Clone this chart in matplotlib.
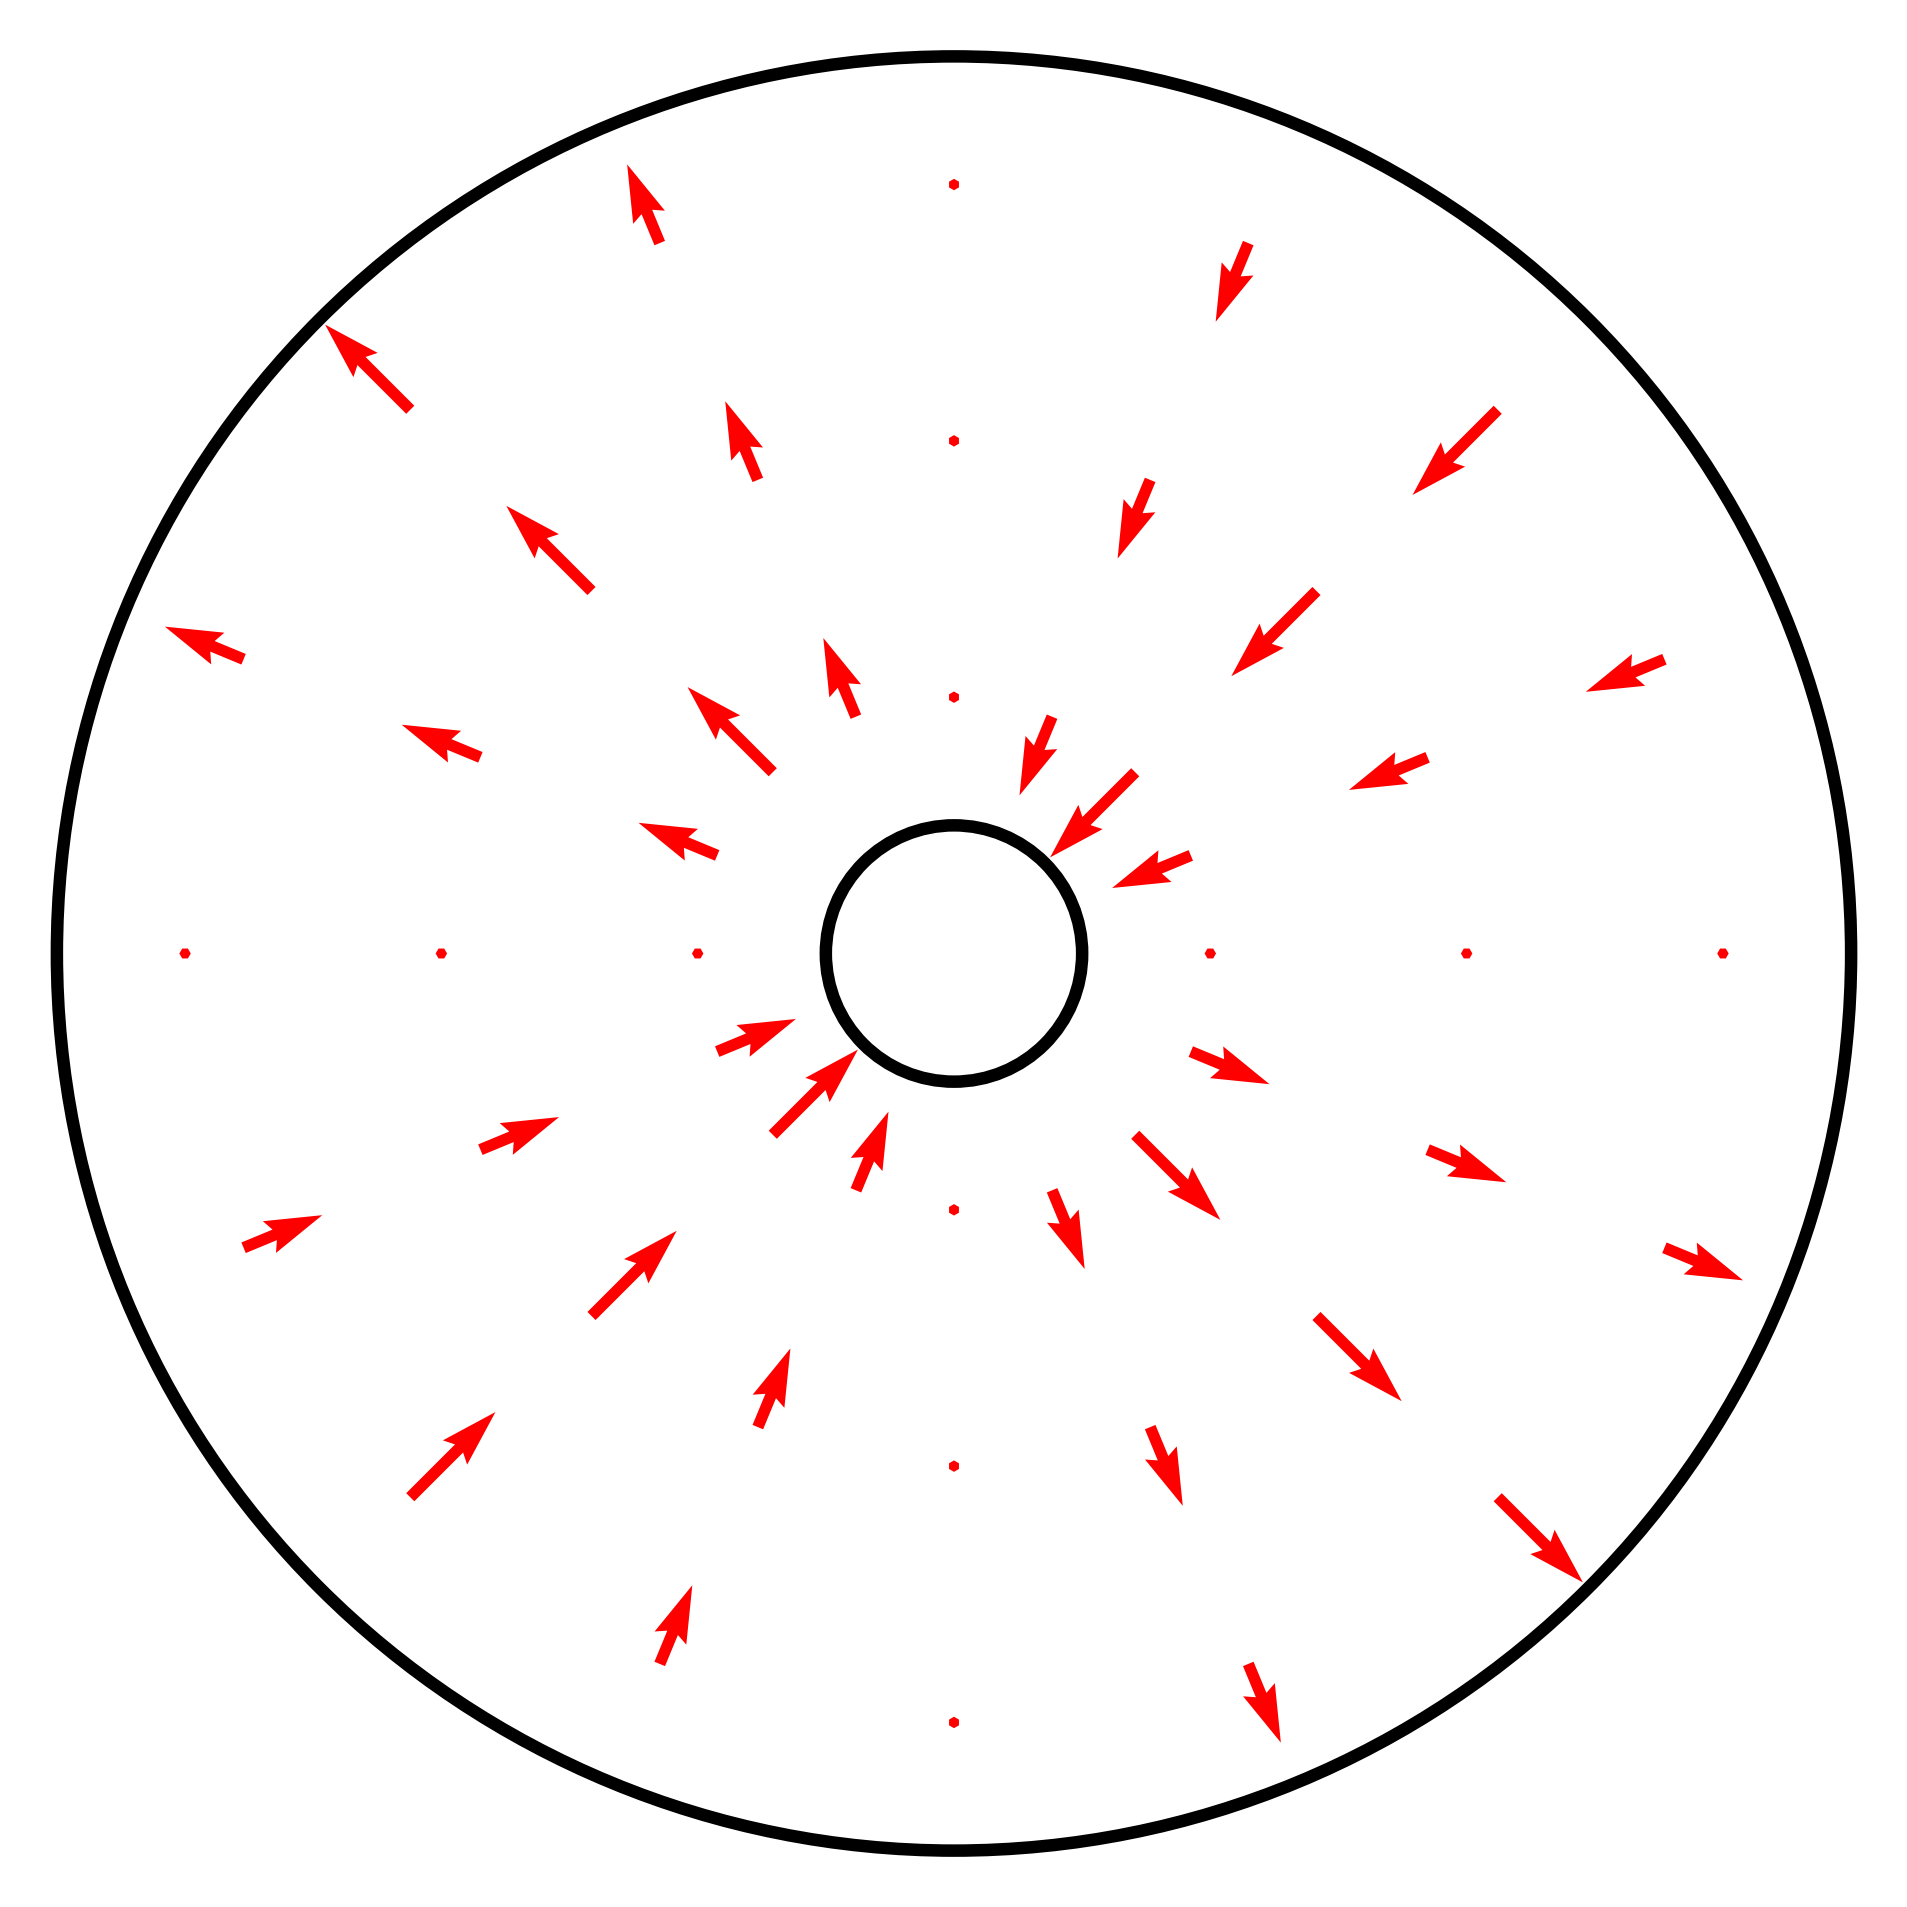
#!/usr/bin/env python3

import numpy as np
import matplotlib
matplotlib.use("Agg")
import matplotlib.pyplot as plt

# sample grid: rings and directions (degrees)
radii = [1.0, 2.0, 3.0]
angles_deg = [0.0, 22.5, 45.0, 67.5, 90.0, 112.5, 135.0, 157.5,
              180.0, 202.5, 225.0, 247.5, 270.0, 292.5, 315.0, 337.5]
# radial component at each direction (positive = outward)
radial = [0.0, -0.707, -1.0, -0.707, 0.0, 0.707, 1.0, 0.707,
          0.0, -0.707, -1.0, -0.707, 0.0, 0.707, 1.0, 0.707]

inner_r = 0.5
outer_r = 3.5
lim = 3.72
arrow_len = 0.47  # data units for a unit vector

fig = plt.figure(figsize=(19.08, 19.07), dpi=100)
ax = fig.add_axes([0, 0, 1, 1])

x, y, mag, ang = [], [], [], []
for r in radii:
  for th, ur in zip(angles_deg, radial):
    t = np.deg2rad(th)
    x.append(r * np.cos(t))
    y.append(r * np.sin(t))
    mag.append(abs(ur))
    # arrow direction: outward along the ray, or back toward the centre
    ang.append(th if ur >= 0 else th + 180.0)

ax.quiver(x, y, mag, np.zeros(len(mag)), angles=np.array(ang),
          scale_units="width", scale=2 * lim / arrow_len, pivot="tail",
          color="red", width=0.006)

for rc in [inner_r, outer_r]:
  ax.add_patch(plt.Circle((0, 0), rc, fill=False, color="black", lw=9))

ax.set_xlim(-lim, lim)
ax.set_ylim(-lim, lim)
ax.set_aspect("equal")
ax.axis("off")
plt.savefig("out.png", dpi=100)
